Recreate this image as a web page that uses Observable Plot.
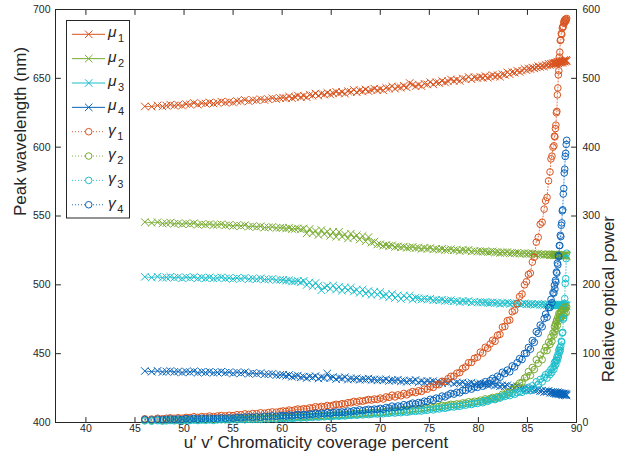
<!DOCTYPE html>
<html>
<head>
<meta charset="utf-8">
<script src="https://cdn.jsdelivr.net/npm/d3@7"></script>
<script src="https://cdn.jsdelivr.net/npm/@observablehq/plot@0.6"></script>
<style>
  body { margin: 0; background: #fff; }
  #chart { position: relative; width: 624px; height: 456px; }
  #chart svg { position: absolute; left: 0; top: 0; }
</style>
</head>
<body>
<div id="chart"></div>
<script>
// u'v' chromaticity coverage (%) of each measurement
const coverage = [
  46.0, 46.7, 47.3, 47.8, 48.2, 48.6, 49.0, 49.4, 49.8, 50.2, 50.6, 51.0, 51.4, 51.8, 52.2, 52.6, 53.0, 53.4, 53.8, 54.2, 54.6, 55.0, 55.4, 55.8, 56.2, 56.6, 57.0, 57.4, 57.8, 58.2, 58.6, 59.0, 59.4, 59.8,
  60.1, 60.4, 60.7, 61.0, 61.3, 61.6, 61.9, 62.2, 62.5, 62.8, 63.1, 63.4, 63.7, 64.0, 64.3, 64.6, 64.9, 65.2, 65.5, 65.8, 66.1, 66.4, 66.7, 67.0, 67.3, 67.6, 67.9, 68.2, 68.5, 68.8, 69.1, 69.4, 69.7,
  70.0, 70.3, 70.6, 70.9, 71.2, 71.5, 71.8, 72.1, 72.4, 72.7, 73.0, 73.3, 73.6, 73.9, 74.2, 74.5, 74.8, 75.1, 75.4, 75.7, 76.0, 76.3, 76.6, 76.9, 77.2, 77.5, 77.8, 78.1, 78.4, 78.7, 79.0, 79.3, 79.6, 79.9,
  80.2, 80.45, 80.7, 80.95, 81.2, 81.45, 81.7, 81.95, 82.2, 82.45, 82.7, 82.95, 83.2, 83.45, 83.7, 83.95, 84.2, 84.45, 84.7, 84.9,
  85.1, 85.3, 85.5, 85.7, 85.9, 86.1, 86.3, 86.5, 86.7, 86.85, 87.0, 87.15, 87.3, 87.4, 87.5, 87.6, 87.7, 87.75, 87.8, 87.85, 87.9, 87.95,
  88.0, 88.05, 88.1, 88.15, 88.2, 88.25, 88.3, 88.35, 88.4, 88.45, 88.5, 88.55, 88.6, 88.65, 88.7, 88.75, 88.8, 88.85, 88.9, 88.95, 89.0
];

// Peak wavelength (nm) of the four primaries
const mu1 = [
  629.6, 629.4, 630.3, 629.6, 630.2, 630.9, 630.2, 630.8, 630.2, 631.3, 631.0, 632.1, 630.9, 631.9, 631.6, 632.5, 631.7, 632.3, 633.1, 632.4, 633.0, 632.4, 633.6, 633.3, 634.4, 633.3, 634.3, 634.0, 634.9, 634.2, 634.8, 635.6, 634.9, 635.6,
  636.0, 635.5, 636.8, 635.6, 636.4, 637.5, 636.4, 637.3, 636.3, 638.0, 637.5, 639.0, 637.4, 638.8, 638.2, 639.5, 638.3, 639.1, 640.2, 639.1, 640.0, 638.9, 640.6, 640.1, 641.6, 639.9, 641.2, 640.6, 641.9, 640.7, 641.5, 642.5, 641.4,
  642.3, 641.3, 643.1, 642.6, 644.2, 642.5, 643.9, 643.3, 644.6, 643.4, 646.6, 645.4, 644.3, 645.3, 644.3, 646.1, 645.6, 647.2, 645.6, 647.1, 646.6, 648.1, 647.0, 647.9, 649.2, 648.1, 649.1, 648.1, 649.9, 649.4, 651.0, 649.3, 650.7, 650.2,
  651.0, 650.4, 651.7, 650.5, 651.3, 652.4, 651.3, 652.2, 651.2, 653.0, 652.6, 654.4, 652.9, 654.5, 654.1, 655.6, 654.6, 655.6, 656.9, 655.9,
  657.0, 656.8, 657.8, 657.2, 657.9, 658.8, 658.2, 659.0, 658.5, 659.7, 659.4, 660.6, 659.5, 660.5, 660.1, 661.0, 660.3, 660.8, 661.4, 660.6, 661.2, 660.5,
  661.6, 661.2, 662.1, 660.9, 661.8, 661.4, 662.2, 661.4, 661.8, 662.5, 661.7, 662.3, 661.6, 662.7, 662.3, 663.3, 662.1, 663.0, 662.6, 663.4, 662.6
];
const mu2 = [
  545.6, 545.0, 545.5, 544.6, 544.8, 545.2, 544.4, 544.7, 544.0, 544.7, 544.1, 544.7, 543.6, 544.1, 543.7, 544.2, 543.4, 543.6, 544.0, 543.2, 543.5, 542.7, 543.3, 542.8, 543.3, 542.2, 542.6, 542.0, 542.5, 541.6, 541.8, 542.1, 541.3, 541.5,
  541.5, 540.9, 541.4, 540.5, 540.7, 541.0, 540.2, 541.0, 537.4, 540.6, 537.5, 539.1, 536.2, 539.8, 536.9, 538.7, 535.6, 538.5, 534.9, 538.5, 535.0, 536.6, 533.7, 537.2, 534.3, 536.0, 532.9, 535.5, 531.6, 534.7, 530.6, 531.4, 529.3,
  529.5, 528.3, 528.9, 528.2, 528.7, 527.5, 527.9, 527.3, 527.8, 526.9, 527.1, 527.5, 526.7, 526.9, 526.1, 526.8, 526.2, 526.8, 525.7, 526.2, 525.6, 526.1, 525.3, 525.5, 525.9, 525.1, 525.4, 524.6, 525.3, 524.8, 525.4, 524.3, 524.7, 524.2,
  524.5, 524.1, 524.4, 523.8, 524.0, 524.3, 523.6, 523.8, 523.2, 523.7, 523.3, 523.8, 522.9, 523.3, 522.9, 523.2, 522.7, 522.8, 523.1, 522.4,
  522.8, 522.4, 522.8, 522.2, 522.3, 522.7, 522.0, 522.2, 521.7, 522.2, 521.9, 522.4, 521.6, 522.1, 521.7, 522.1, 521.6, 521.7, 522.1, 521.5, 521.8, 521.4,
  521.6, 522.0, 521.5, 521.7, 521.3, 521.5, 521.6, 521.5, 521.9, 521.1, 521.5, 521.2, 521.5, 521.2, 521.5, 521.1, 521.3, 521.7, 521.2, 521.4, 521.0
];
const mu3 = [
  505.8, 505.3, 505.9, 505.1, 505.4, 505.8, 505.1, 505.5, 504.7, 505.5, 505.1, 505.7, 504.7, 505.3, 504.8, 505.4, 504.7, 504.9, 505.4, 504.7, 505.0, 504.3, 505.0, 504.5, 505.2, 504.1, 504.6, 504.1, 504.7, 503.8, 504.0, 504.3, 503.4, 503.7,
  503.6, 503.0, 503.3, 502.4, 502.5, 502.8, 501.8, 502.9, 499.9, 501.8, 499.0, 501.3, 499.4, 496.1, 498.1, 499.3, 497.1, 499.5, 496.6, 498.5, 495.8, 498.1, 496.2, 498.0, 495.1, 496.4, 494.2, 496.6, 493.6, 495.5, 492.7, 495.0, 493.0,
  494.8, 491.8, 493.1, 490.9, 493.3, 490.4, 492.4, 489.7, 492.1, 490.3, 492.2, 489.3, 490.7, 490.3, 489.4, 490.0, 489.4, 489.9, 488.8, 489.2, 488.7, 489.2, 488.3, 488.5, 488.9, 488.0, 488.3, 487.5, 488.2, 487.7, 488.3, 487.2, 487.7, 487.2,
  487.5, 487.1, 487.4, 486.9, 487.0, 487.3, 486.7, 486.9, 486.3, 486.9, 486.5, 487.0, 486.2, 486.6, 486.2, 486.6, 486.0, 486.1, 486.5, 485.8,
  486.2, 485.8, 486.2, 485.6, 485.8, 486.2, 485.5, 485.8, 485.2, 485.8, 485.4, 486.0, 485.2, 485.6, 485.3, 485.7, 485.2, 485.3, 485.7, 485.1, 485.4, 485.0,
  485.3, 485.5, 485.2, 485.4, 485.0, 485.3, 485.1, 485.1, 485.5, 484.9, 485.2, 484.9, 485.1, 484.8, 485.0, 484.8, 485.0, 485.4, 484.8, 485.1, 484.7
];
const mu4 = [
  437.4, 436.9, 437.5, 436.7, 437.0, 437.4, 436.7, 437.0, 436.3, 437.0, 436.6, 437.2, 436.2, 436.8, 436.3, 436.9, 436.1, 436.4, 436.9, 436.1, 436.5, 435.7, 436.4, 435.9, 436.5, 435.4, 435.9, 435.4, 435.9, 435.0, 435.1, 435.3, 434.4, 434.6,
  434.7, 433.9, 434.5, 433.2, 433.6, 434.1, 432.9, 433.3, 432.3, 433.4, 432.7, 433.7, 432.0, 433.0, 432.3, 435.6, 432.3, 433.0, 431.5, 432.6, 431.9, 432.9, 431.2, 431.9, 431.4, 432.1, 431.0, 431.6, 431.2, 431.9, 430.9, 431.3, 430.6,
  431.2, 430.6, 431.4, 430.2, 430.7, 430.5, 431.1, 429.9, 430.4, 429.6, 430.5, 429.9, 430.9, 429.2, 430.1, 429.2, 430.1, 429.5, 430.1, 428.9, 429.3, 428.5, 429.6, 428.9, 429.9, 428.2, 429.1, 428.4, 429.1, 427.9, 428.3, 428.9, 427.7, 428.2,
  428.2, 427.6, 428.2, 427.2, 427.5, 428.0, 426.9, 427.3, 426.3, 427.1, 426.4, 427.0, 425.5, 426.1, 425.4, 426.3, 424.7, 424.8, 425.1, 423.9,
  424.5, 423.8, 424.3, 423.2, 423.5, 423.9, 422.8, 423.1, 422.1, 422.9, 422.3, 423.0, 421.6, 422.2, 421.6, 422.2, 421.2, 421.6, 422.1, 421.2, 421.6, 420.8,
  421.7, 421.1, 422.0, 420.6, 421.4, 420.8, 421.4, 420.5, 420.8, 421.3, 420.4, 420.8, 420.0, 420.9, 420.3, 421.2, 419.8, 420.6, 420.0, 420.6, 419.6
];

// Relative optical power of the four primaries
const gamma1 = [
  5.4, 5.0, 6.2, 5.4, 6.2, 6.8, 6.1, 6.9, 6.3, 7.4, 7.2, 8.4, 7.5, 8.6, 8.2, 9.4, 8.6, 9.5, 10.2, 9.6, 10.5, 10.0, 11.3, 11.2, 12.5, 11.8, 13.0, 12.8, 14.1, 13.5, 14.5, 15.4, 15.0, 16.0,
  16.8, 16.2, 18.1, 17.0, 18.4, 19.6, 18.7, 20.1, 19.4, 21.3, 21.0, 22.9, 21.7, 23.4, 22.8, 24.7, 23.6, 25.1, 26.4, 25.7, 27.3, 26.7, 28.8, 28.7, 30.7, 29.6, 31.4, 30.9, 32.2, 33.4, 32.6, 34.1, 33.5,
  35.5, 34.1, 37.2, 36.5, 39.7, 37.2, 40.1, 38.8, 42.2, 40.2, 42.9, 44.9, 43.4, 46.1, 45.1, 48.7, 48.4, 52.1, 50.9, 55.0, 55.0, 59.9, 59.4, 63.6, 67.1, 67.3, 71.6, 72.5, 78.5, 80.7, 86.9, 87.3, 93.2, 94.8,
  102.2, 100.8, 109.3, 107.9, 114.0, 119.5, 118.0, 126.7, 128.0, 138.7, 139.5, 147.9, 148.8, 160.8, 162.9, 172.6, 183.0, 186.5, 200.0, 204.5,
  215, 217, 233, 240, 262, 269, 288, 291, 310, 322, 327, 351, 364, 383, 387, 400, 402, 416, 415, 427, 432, 450,
  452, 476, 486, 505, 511, 531, 538, 555, 556, 565, 564, 573, 575, 575, 582, 580, 585, 582, 586, 584, 587
];
const gamma2 = [
  3.3, 2.9, 3.6, 3.0, 3.4, 3.9, 3.4, 3.8, 3.4, 4.1, 3.8, 4.5, 3.8, 4.5, 4.1, 4.8, 4.2, 4.6, 5.1, 4.6, 5.0, 4.6, 5.4, 5.2, 5.8, 5.3, 5.8, 5.8, 6.5, 5.9, 6.3, 6.9, 6.4, 7.1,
  7.3, 6.8, 7.9, 7.1, 7.7, 8.4, 7.8, 8.5, 8.0, 9.1, 8.7, 9.8, 8.9, 10.0, 9.5, 10.6, 9.8, 10.5, 11.2, 10.7, 11.4, 11.0, 12.2, 11.8, 13.0, 12.2, 13.3, 12.9, 14.1, 13.4, 14.1, 14.9, 14.3,
  15.0, 14.7, 16.0, 15.8, 17.1, 16.4, 17.6, 17.2, 18.9, 17.8, 18.8, 20.0, 19.2, 20.3, 19.8, 21.5, 21.0, 22.9, 21.7, 23.5, 23.0, 24.9, 23.9, 25.1, 26.4, 25.8, 27.0, 26.5, 28.4, 28.1, 30.1, 29.0, 30.8, 30.4,
  32.5, 30.9, 34.3, 32.8, 34.9, 36.3, 34.4, 37.6, 37.0, 41.1, 40.4, 43.8, 43.1, 48.3, 48.5, 53.0, 57.3, 58.3, 64.5, 66.2,
  74.0, 68.3, 80.0, 77.0, 91.0, 86.0, 98.0, 91.3, 104.0, 109.5, 104.5, 116.5, 113.5, 124.0, 118.0, 130.0, 127.0, 139.0, 132.5, 143.0, 136.5, 147.0,
  149.0, 141.0, 153.0, 147.0, 158.5, 151.0, 157.0, 160.0, 152.0, 160.8, 154.5, 164.2, 157.0, 165.6, 155.2, 167.8, 158.4, 165.0, 167.6, 159.3, 168.0
];
const gamma3 = [
  2.3, 1.9, 2.6, 2.0, 2.4, 2.9, 2.4, 2.8, 2.4, 3.2, 2.9, 3.5, 2.8, 3.5, 3.1, 3.7, 3.0, 3.8, 4.0, 3.9, 3.7, 4.3, 3.8, 4.7, 4.0, 4.7, 4.4, 4.8, 4.4, 5.3, 5.0, 5.8, 5.1, 5.9,
  6.2, 5.6, 6.7, 5.9, 6.5, 7.1, 6.5, 7.2, 6.7, 7.8, 7.4, 8.5, 7.6, 8.6, 8.1, 9.2, 8.4, 9.0, 9.7, 9.1, 9.9, 9.4, 10.5, 10.2, 11.3, 10.4, 11.5, 11.0, 12.2, 11.4, 12.1, 12.8, 12.3,
  13.0, 12.6, 13.7, 13.4, 14.5, 13.7, 14.7, 14.2, 15.8, 14.8, 15.7, 16.8, 16.1, 17.2, 16.6, 18.2, 17.7, 19.4, 18.3, 20.1, 19.6, 21.4, 20.6, 21.7, 23.0, 22.5, 23.9, 23.5, 25.4, 25.2, 27.1, 26.1, 27.9, 27.6,
  29.9, 28.7, 32.0, 30.7, 32.7, 34.5, 33.2, 36.0, 35.4, 38.6, 37.8, 40.3, 39.0, 42.1, 41.0, 43.3, 44.9, 43.8, 46.8, 46.3,
  51.0, 46.6, 53.3, 49.2, 59.2, 55.4, 62.6, 59.0, 65.5, 69.5, 64.5, 72.5, 69.7, 77.2, 73.0, 80.5, 77.3, 86.8, 82.3, 89.0, 84.8, 90.8,
  95.0, 90.3, 98.6, 95.0, 105.2, 101.5, 108.5, 104.8, 111.0, 118.0, 117.0, 130.0, 131.0, 150.0, 152.0, 173.0, 180.0, 202.0, 209.0, 238.0, 246.0
];
const gamma4 = [
  4.4, 3.9, 4.8, 4.1, 4.6, 5.2, 4.5, 5.1, 4.5, 5.6, 5.1, 6.0, 5.2, 6.1, 5.5, 6.5, 5.7, 6.2, 6.8, 6.2, 6.8, 6.3, 7.6, 6.8, 7.8, 8.1, 7.5, 8.2, 7.7, 8.9, 8.5, 9.6, 8.8, 9.8,
  10.2, 9.3, 11.0, 9.6, 10.8, 11.6, 10.4, 11.6, 10.7, 12.3, 11.8, 13.5, 12.1, 13.6, 12.7, 14.4, 13.1, 14.3, 15.2, 14.2, 15.4, 14.5, 16.6, 15.4, 17.1, 16.4, 18.4, 17.1, 18.3, 19.2, 18.2, 19.5, 19.0,
  20.5, 19.1, 21.8, 21.0, 23.8, 21.5, 24.0, 22.8, 25.9, 24.2, 26.4, 28.2, 26.7, 29.0, 28.0, 31.0, 30.5, 33.7, 32.2, 35.4, 34.9, 38.4, 37.2, 39.9, 42.3, 41.2, 43.9, 43.2, 46.7, 46.6, 50.1, 48.5, 51.6, 51.0,
  55.2, 52.7, 59.3, 56.4, 60.8, 64.1, 61.1, 67.2, 65.8, 73.0, 71.1, 76.1, 73.7, 82.2, 80.7, 86.9, 92.8, 91.5, 100.3, 100.5,
  109, 106.5, 119, 116.5, 132, 129.5, 141.5, 139, 151, 157.5, 153, 167, 167, 179, 174, 188.5, 188, 199.5, 194, 206.5, 204, 218.5,
  217, 231.5, 229, 242.5, 241, 257, 257, 272, 270, 286.5, 290, 307.5, 309, 332, 340, 362.5, 368, 386.5, 391, 404, 410
];

const peakLabels = ["1", "2", "3", "4"];     // subscripts of μ
const powerLabels = ["1", "2", "3", "4"];    // subscripts of γ
const coverageTicks = [40, 45, 50, 55, 60, 65, 70, 75, 80, 85, 90];
const wavelengthTicks = [400, 450, 500, 550, 600, 650, 700];
const powerTicks = [0, 100, 200, 300, 400, 500, 600];

const colors = ["#D9531E", "#77AC30", "#1BBFCB", "#0964BA"];
const ink = "#262626";
const font = "'Liberation Sans', Arial, Helvetica, sans-serif";
const W = 624, H = 456;
const frame = {marginTop: 9, marginRight: 48, marginBottom: 34, marginLeft: 55};
const xDomain = [36.9, 90];
const titleSize = 17;

const toRows = (values) => coverage.map((x, i) => ({x, v: values[i]}));
const peakSeries = [mu1, mu2, mu3, mu4].map(toRows);
const powerSeries = [gamma1, gamma2, gamma3, gamma4].map(toRows);

// short inward tick stroke
const tickShape = {draw(context, l) { context.moveTo(0, 0); context.lineTo(0, -l); }};
const tick = {length: 5, anchor: "start", shape: tickShape, stroke: ink, strokeWidth: 1};

const wavelengthPlot = Plot.plot({
  width: W, height: H, ...frame,
  style: {fontFamily: font, fontSize: "10.5px", color: ink, background: "white"},
  x: {domain: xDomain},
  y: {domain: [400, 700]},
  marks: [
    ...peakSeries.flatMap((d, k) => [
      Plot.line(d, {x: "x", y: "v", stroke: colors[k], strokeWidth: 0.8}),
      Plot.dot(d, {x: "x", y: "v", symbol: "times", r: 3.5, stroke: colors[k], strokeWidth: 1})
    ]),
    Plot.axisX(coverageTicks, {anchor: "bottom", tickSize: 0, tickPadding: 2, label: null}),
    Plot.axisY(wavelengthTicks, {anchor: "left", tickSize: 0, tickPadding: 5, label: null}),
    Plot.vector(coverageTicks, {x: (d) => d, frameAnchor: "bottom", rotate: 0, ...tick}),
    Plot.vector(coverageTicks, {x: (d) => d, frameAnchor: "top", rotate: 180, ...tick}),
    Plot.vector(wavelengthTicks, {y: (d) => d, frameAnchor: "left", rotate: 90, ...tick}),
    Plot.frame({stroke: ink, strokeWidth: 1}),
    Plot.text(["u\u2032 v\u2032 Chromaticity coverage percent"], {frameAnchor: "bottom", dy: 25, fontSize: titleSize, fill: ink}),
    Plot.text(["Peak wavelength (nm)"], {frameAnchor: "left", dx: -35, rotate: -90, fontSize: titleSize, fill: ink})
  ]
});

const powerPlot = Plot.plot({
  width: W, height: H, ...frame,
  style: {fontFamily: font, fontSize: "10.5px", color: ink, background: "transparent"},
  x: {domain: xDomain, axis: null},
  y: {domain: [0, 600]},
  marks: [
    ...powerSeries.flatMap((d, k) => [
      Plot.line(d, {x: "x", y: "v", stroke: colors[k], strokeWidth: 0.8, strokeDasharray: "1,2"}),
      Plot.dot(d, {x: "x", y: "v", r: 3.3, stroke: colors[k], strokeWidth: 1, fill: "none"})
    ]),
    Plot.axisY(powerTicks, {anchor: "right", tickSize: 0, tickPadding: 6, label: null}),
    Plot.vector(powerTicks, {y: (d) => d, frameAnchor: "right", rotate: -90, ...tick}),
    Plot.text(["Relative optical power"], {frameAnchor: "right", dx: 32.5, rotate: -90, fontSize: titleSize, fill: ink})
  ]
});

// legend box in the upper-left corner of the axes
const legend = d3.create("svg").attr("width", W).attr("height", H)
  .style("font-family", font);
const box = {x: 66.5, y: 20.5, w: 63, h: 197.5};
legend.append("rect").attr("x", box.x).attr("y", box.y).attr("width", box.w).attr("height", box.h)
  .attr("fill", "white").attr("stroke", ink).attr("stroke-width", 1);

const entries = [
  ...peakLabels.map((s, k) => ({glyph: "\u03BC", sub: s, color: colors[k], peak: true})),
  ...powerLabels.map((s, k) => ({glyph: "\u03B3", sub: s, color: colors[k], peak: false}))
];
const rowStep = 24.35, firstRow = 34.3, lineX0 = 72, lineX1 = 105, markX = 88.7;
const cross = d3.symbol(d3.symbolTimes, Math.PI * 3.5 * 3.5)();
entries.forEach((e, i) => {
  const y = firstRow + i * rowStep;
  const g = legend.append("g");
  g.append("line").attr("x1", lineX0).attr("x2", lineX1).attr("y1", y).attr("y2", y)
    .attr("stroke", e.color).attr("stroke-width", e.peak ? 1 : 0.9)
    .attr("stroke-dasharray", e.peak ? null : "1,2");
  if (e.peak) {
    g.append("path").attr("d", cross).attr("transform", `translate(${markX},${y})`)
      .attr("fill", "none").attr("stroke", e.color).attr("stroke-width", 1);
  } else {
    g.append("circle").attr("cx", markX).attr("cy", y).attr("r", 3.3)
      .attr("fill", "white").attr("stroke", e.color).attr("stroke-width", 1);
  }
  const t = g.append("text").attr("x", 108).attr("y", y + 3).attr("fill", ink);
  t.append("tspan").attr("font-style", "italic").attr("font-size", 15.5).text(e.glyph);
  t.append("tspan").attr("font-size", 11).attr("dx", 1.5).attr("dy", 5).text(e.sub);
});

const chart = document.getElementById("chart");
chart.append(wavelengthPlot, powerPlot, legend.node());
</script>
</body>
</html>
